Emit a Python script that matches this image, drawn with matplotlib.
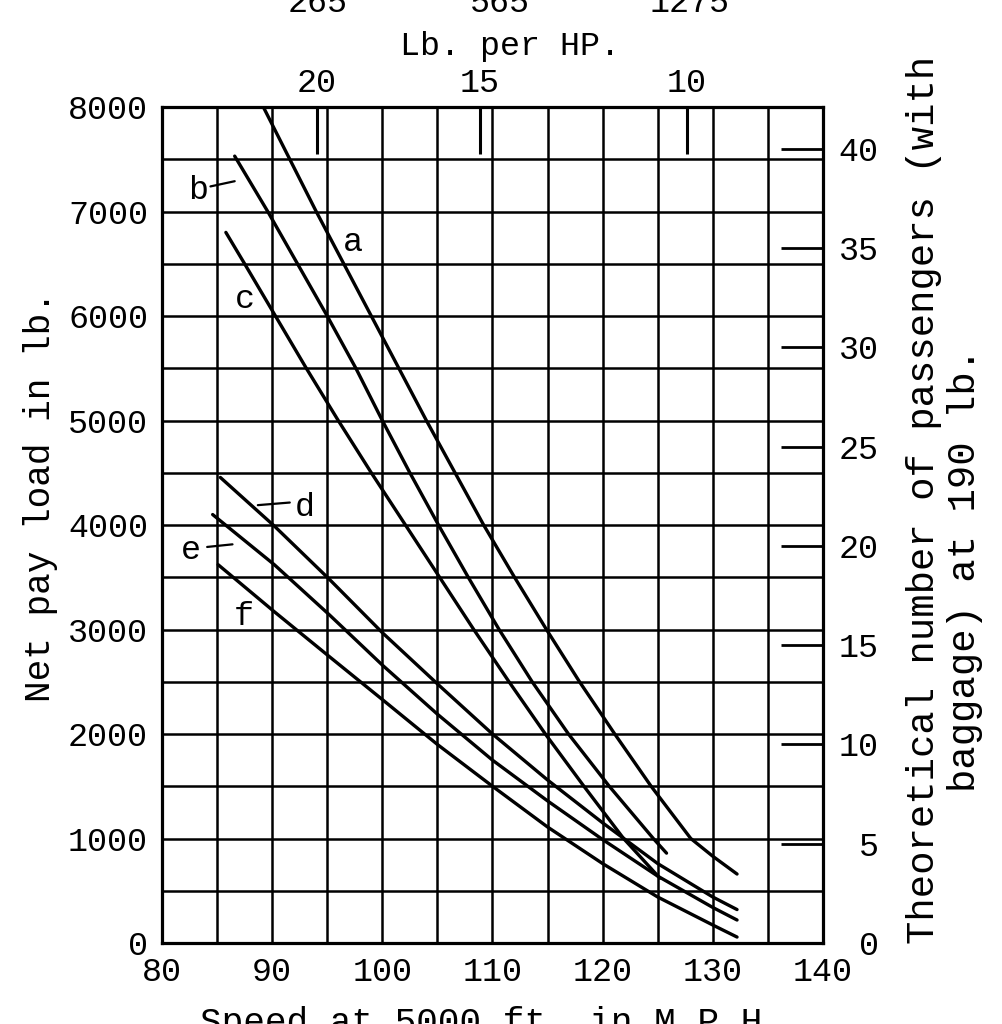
import matplotlib
matplotlib.use("Agg")
import matplotlib.pyplot as plt

plt.rcParams['font.family'] = ['Liberation Mono', 'DejaVu Sans Mono']

# ---- data (speed in M.P.H., net pay load in lb.) ----
a_x = [89.2, 91.6, 94.0, 96.5, 99.0, 101.5, 104.0, 106.6, 109.2, 112.0, 114.9, 117.9, 121.1, 124.4, 128.0, 130.0, 132.2]
a_y = [8000, 7500, 7000, 6500, 6000, 5500, 5000, 4500, 4000, 3500, 3000, 2500, 2000, 1500, 1000, 830, 660]

b_x = [86.6, 89.6, 92.3, 95.0, 97.6, 100.0, 102.5, 105.1, 107.8, 110.6, 113.6, 116.9, 120.6, 124.6, 125.8]
b_y = [7530, 7000, 6500, 6000, 5500, 5000, 4500, 4000, 3500, 3000, 2500, 2000, 1500, 1000, 860]

c_x = [85.8, 87.5, 90.3, 93.1, 96.0, 99.0, 102.1, 105.2, 108.3, 111.5, 114.8, 118.3, 121.9, 125.2]
c_y = [6800, 6500, 6000, 5500, 5000, 4500, 4000, 3500, 3000, 2500, 2000, 1500, 1000, 620]

d_x = [85.3, 90.2, 95.2, 100.0, 105.0, 110.0, 115.0, 120.0, 125.0, 130.0, 132.2]
d_y = [4455, 3990, 3480, 2970, 2480, 2000, 1560, 1150, 760, 440, 320]

e_x = [84.6, 90.2, 95.2, 100.0, 105.0, 110.0, 115.0, 120.0, 125.0, 130.0, 132.2]
e_y = [4100, 3620, 3140, 2660, 2190, 1750, 1360, 990, 640, 340, 220]

f_x = [85.1, 90.2, 95.2, 100.0, 105.0, 110.0, 115.0, 120.0, 125.0, 130.0, 132.2]
f_y = [3620, 3170, 2740, 2330, 1900, 1500, 1110, 760, 440, 172, 57]

curve_names = ['a', 'b', 'c', 'd', 'e', 'f']
label_pos = {'a': (97.3, 6700), 'b': (83.3, 7200), 'c': (87.5, 6160),
             'd': (93.0, 4170), 'e': (82.6, 3760), 'f': (87.4, 3120)}
# leader lines: (start, end) for labels that carry a short dash
leaders = {'b': ((84.4, 7240), (86.6, 7290)),
           'd': ((91.6, 4215), (88.7, 4190)),
           'e': ((84.1, 3790), (86.4, 3815))}

x_ticks = [80, 90, 100, 110, 120, 130, 140]
y_ticks = [0, 1000, 2000, 3000, 4000, 5000, 6000, 7000, 8000]
pass_ticks = [0, 5, 10, 15, 20, 25, 30, 35, 40]
lb_per_passenger = 190
hp_tick_speed = [94.07, 108.86, 127.64]
hp_tick_labels = ['20', '15', '10']
top_row_labels = ['265', '565', '1275']

# ---- figure ----
fig = plt.figure(figsize=(10.03, 10.24), dpi=100)
ax = fig.add_axes([0.1615, 0.0791, 0.659, 0.8164])
ax.set_xlim(80, 140)
ax.set_ylim(0, 8000)

ax.set_xticks(x_ticks)
ax.set_xticks(list(range(80, 141, 5)), minor=True)
ax.set_yticks(y_ticks)
ax.set_yticks(list(range(0, 8001, 500)), minor=True)
ax.grid(True, which='both', color='black', linewidth=1.8)
ax.tick_params(which='both', length=0, labelsize=24, pad=10)
for s in ax.spines.values():
    s.set_linewidth(2.3)

for name, xs, ys in zip(curve_names, [a_x, b_x, c_x, d_x, e_x, f_x],
                        [a_y, b_y, c_y, d_y, e_y, f_y]):
    ax.plot(xs, ys, color='black', linewidth=2.4, solid_capstyle='round',
            solid_joinstyle='round')
    tx, ty = label_pos[name]
    ax.text(tx, ty, name, fontsize=24, ha='center', va='center')
    if name in leaders:
        p0, p1 = leaders[name]
        ax.annotate('', xy=p1, xytext=p0,
                    arrowprops=dict(arrowstyle='-', lw=1.6, color='black',
                                    shrinkA=0, shrinkB=0))

fig.text(0.040, 0.515, 'Net pay load in lb.', rotation=90,
         fontsize=26, ha='center', va='center')

# right axis: passengers
sec_y = ax.secondary_yaxis('right', functions=(lambda y: y / lb_per_passenger,
                                              lambda p: p * lb_per_passenger))
sec_y.set_yticks(pass_ticks)
sec_y.tick_params(direction='in', length=30, width=2, labelsize=24, pad=40)
plt.setp(sec_y.get_yticklabels(), ha='right')

fig.text(0.921, 0.512, 'Theoretical number of passengers (with', rotation=90,
         fontsize=28, ha='center', va='center')
fig.text(0.962, 0.443, 'baggage) at 190 lb.', rotation=90,
         fontsize=28, ha='center', va='center')

# top axis: Lb. per HP.
sec_x = ax.secondary_xaxis('top')
sec_x.set_xticks(hp_tick_speed, labels=hp_tick_labels)
sec_x.tick_params(direction='in', length=34, width=2.2, labelsize=24, pad=6)
fig.text(0.508, 0.955, 'Lb. per HP.', fontsize=24, ha='center', va='center')
for xs, lab in zip([0.317, 0.498, 0.688], top_row_labels):
    fig.text(xs, 0.997, lab, fontsize=24, ha='center', va='center')

fig.text(0.49, 0.018, 'Speed at 5000 ft. in M.P.H.', fontsize=26, ha='center', va='top')

fig.savefig('out.png', dpi=100)
